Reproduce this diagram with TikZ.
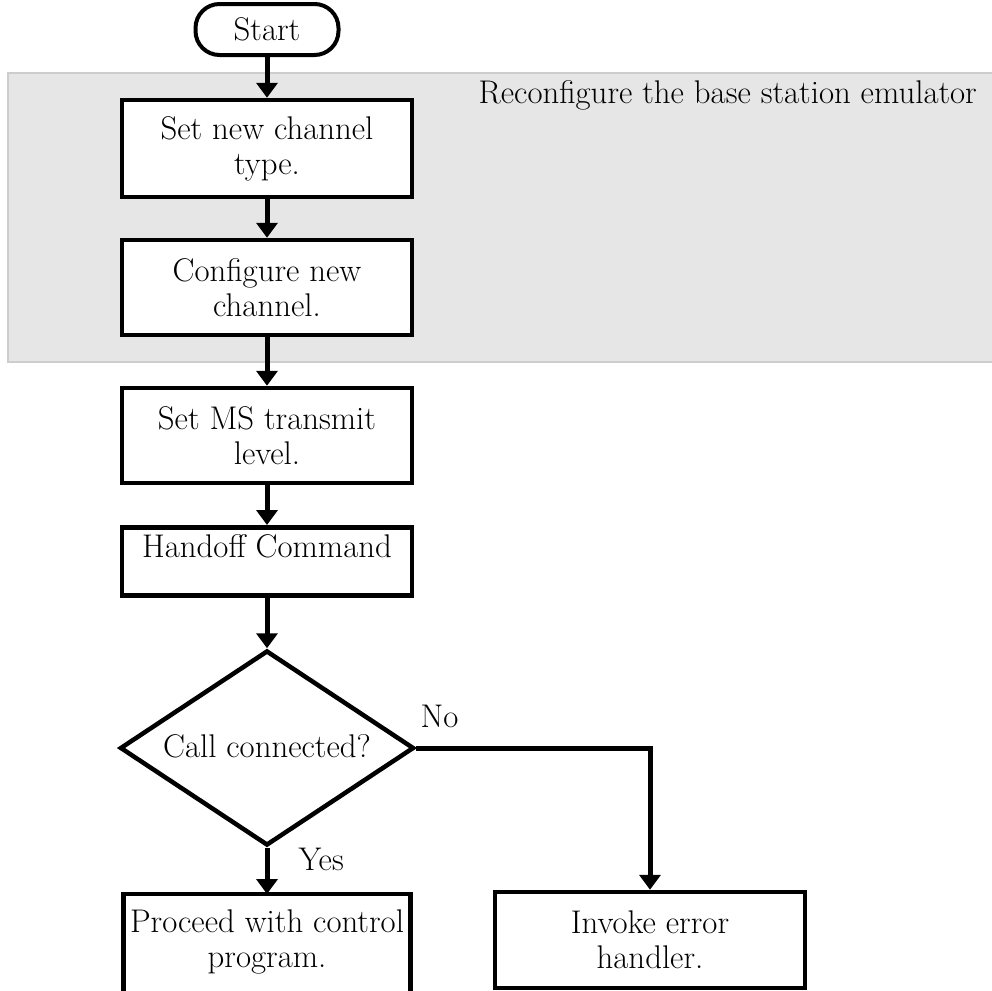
\documentclass[tikz,border=0pt]{standalone}
\usetikzlibrary{shapes.geometric,arrows.meta,positioning}
\definecolor{bandgray}{RGB}{230,230,230}
\definecolor{bandedge}{RGB}{205,205,205}

\begin{document}
\begin{tikzpicture}[x=1pt,y=-1pt,
	every node/.style={font=\fontsize{32.8}{35}\selectfont},
	box/.style={draw,line width=4.5pt,fill=white,align=center,inner sep=2pt,minimum width=290pt,minimum height=95pt},
	pill/.style={draw,line width=4pt,fill=white,rounded corners=24pt,minimum width=143pt,minimum height=51pt,inner sep=2pt},
	decision/.style={draw,diamond,line width=4.5pt,fill=white,aspect=1.5,inner sep=0pt,minimum width=294pt,minimum height=195pt},
	flow/.style={line width=5pt,-{Triangle[width=21pt,length=15pt]}},
	lbl/.style={inner sep=0pt}]
			\useasboundingbox (0,0) rectangle (991,991);
			\draw[bandedge,line width=2pt,fill=bandgray] (8,73) rectangle (1000,362);
			\node[lbl,anchor=base east] (bandtitle) at (977,103) {Reconfigure the base station emulator};

			\node[pill] (start) at (267,29.5) {Start};
			\node[box,minimum height=97pt] (settype) at (267,148.5) {Set new channel\\type.};
			\node[box] (newchan) at (267,287.5) {Configure new\\channel.};
			\node[box] (mslevel) at (267,435.5) {Set MS transmit\\level.};
			\node[box,anchor=north,minimum height=0pt,inner sep=0pt,text height=30pt,text depth=38pt] (handoff) at (267,525) {Handoff Command};
			\node[decision] (connected) at (267,748) {\raisebox{5pt}{Call connected?}};
			\node[box,draw=none,fill=none,outer sep=0pt,anchor=north,minimum width=287pt,minimum height=96pt] (proceed) at (267,894) {Proceed with control\\program.};
			\node[box,minimum width=310pt,minimum height=96pt] (errhandler) at (650,940) {Invoke error\\handler.};
			\draw[line width=4.5pt] ([shift={(0,40)}]proceed.south west) |- (proceed.north east) -- ([shift={(0,40)}]proceed.south east);

			\draw[flow] (start) -- (settype);
			\draw[flow] (settype) -- (newchan);
			\draw[flow] (newchan) -- (mslevel);
			\draw[flow] (mslevel) -- (handoff);
			\draw[flow] (handoff) -- (connected);
			\draw[flow] (connected) -- node[lbl,pos=0.25,right=29pt] {Yes} (proceed);
			\draw[flow] (connected.east) -| node[lbl,pos=0.05,above=18pt] {No} (errhandler);
\end{tikzpicture}
\end{document}
